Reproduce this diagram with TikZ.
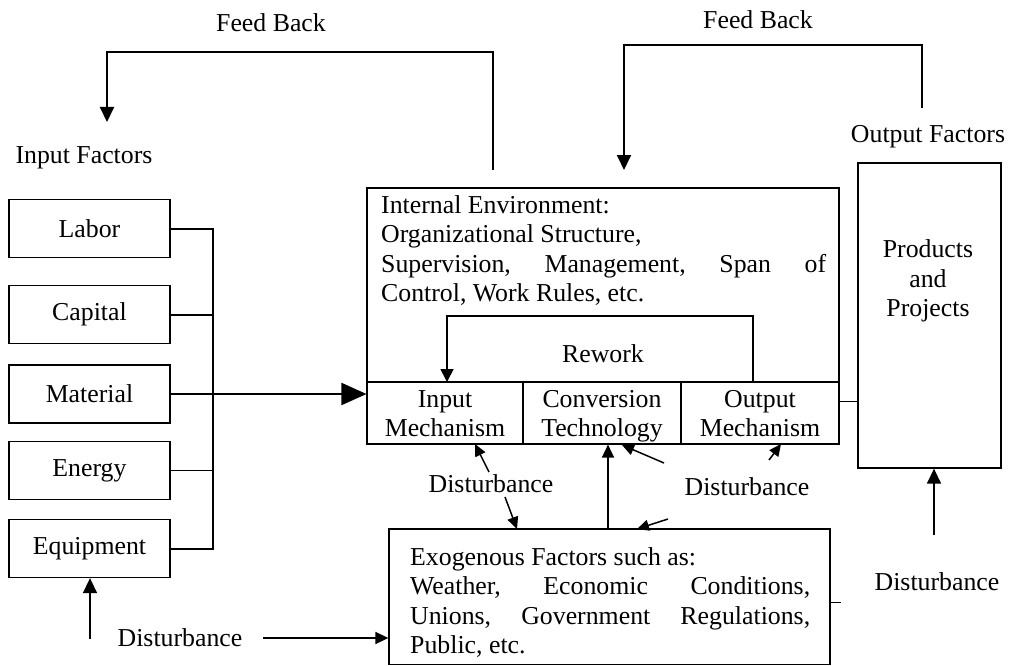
\documentclass[tikz,border=0pt]{standalone}
\usepackage{fontspec}
\setmainfont{Liberation Serif}
\usetikzlibrary{arrows.meta,calc}
\newcommand{\topstrut}{\rule{0pt}{25pt}}
\newcommand{\botstrut}{\rule[-7.5pt]{0pt}{7.5pt}}
\begin{document}
\begin{tikzpicture}[x=1pt,y=-1pt,
  every node/.style={font=\fontsize{25.8}{29.5}\selectfont, inner sep=0pt},
  ibox/.style={draw, line width=1.3pt, minimum width=161pt, minimum height=58pt},
  sbox/.style={draw, line width=1.1pt, minimum width=158pt, minimum height=62pt, align=center},
  conn/.style={line width=2pt},
  thinconn/.style={line width=1pt},
  bigarrow/.style={line width=2pt, -{Triangle[length=25pt,width=22pt]}},
  fbarrow/.style={line width=2pt, -{Triangle[length=15pt,width=14pt]}},
  darrow/.style={line width=1.5pt, -{Triangle[length=13pt,width=12pt]}},
  sarrow/.style={line width=1.5pt, -{Triangle[length=12pt,width=11pt]}}
]
\useasboundingbox (0,0) rectangle (1009,666);

% input factors
\node (inlabel) at (84,158) {Input Factors};
\node[ibox] (labor) at (89.5,228.5) {Labor};
\node[ibox] (capital) at (89.5,314.5) {Capital};
\node[ibox] (material) at (89.5,394) {Material};
\node[ibox] (energy) at (89.5,470.5) {Energy};
\node[ibox] (equip) at (89.5,548.5) {Equipment};
\coordinate (bus) at (213,0);
\draw[conn] (labor.east) -- (labor.east -| bus) -- (equip.east -| bus) -- (equip.east);
\draw[conn] (capital.east) -- (capital.east -| bus);
\draw[thinconn] (energy.east) -- (energy.east -| bus);

% internal environment
\node[draw, line width=1.1pt, minimum width=472pt, minimum height=194pt] (inner) at (603,285) {};
\node[anchor=north west, text width=445pt, align=justify] (innertext) at (381,195)
  {Internal Environment:\\
   Organizational Structure,\\
   Supervision,\hfill Management,\hfill Span\hfill of\\
   Control, Work Rules, etc.};
\node[sbox, minimum width=156pt] (inp) at (445,413) {\topstrut Input\\Mechanism\botstrut};
\node[sbox] (conv) at (602,413) {\topstrut Conversion\\Technology\botstrut};
\node[sbox] (outp) at (760,413) {\topstrut Output\\Mechanism\botstrut};
\draw[bigarrow] (material.east) -- (material.east -| inp.west);

% rework
\node (rework) at (603,354) {Rework};
\coordinate (rwS) at (753,382);
\coordinate (rwE) at (447,382);
\draw[line width=1.8pt, -{Triangle[length=13pt,width=13pt]}] (rwS) -- (753,316) -- (447,316) -- (rwE);

% output factors
\node (outlabel) at (928,137) {Output Factors};
\node[draw, line width=1.3pt, minimum width=143pt, minimum height=305pt] (prod) at (929.5,315.5) {};
\node[align=center] (prodtext) at (928,281) {Products\\and\\Projects};
\coordinate (oc) at (839,401);
\draw[thinconn] (oc) -- (oc -| prod.west);

% feed backs
\node (fb1) at (271,23) {Feed Back};
\node (fb2) at (758,20) {Feed Back};
\coordinate (fbLs) at (493,170);
\coordinate (fbLe) at (107,122);
\draw[fbarrow] (fbLs) -- (493,52) -- (107,52) -- (fbLe);
\coordinate (fbRs) at (922,108);
\coordinate (fbRe) at (624,170);
\draw[fbarrow] (fbRs) -- (922,45) -- (624,45) -- (fbRe);

% exogenous
\node[draw, line width=1.3pt, minimum width=441pt, minimum height=135.5pt] (exo) at (609.5,596.75) {};
\node[anchor=north west, text width=400pt, align=justify] (exotext) at (410,547)
  {Exogenous Factors such as:\\
   Weather,\hfill Economic\hfill Conditions,\\
   Unions,\hfill Government\hfill Regulations,\\
   Public, etc.};
\coordinate (exoR) at (830,602);
\draw[thinconn] (exoR) -- (841,602);

% disturbances middle
\node (dL) at (491,484) {Disturbance};
\node (dR) at (747,487) {Disturbance};
\coordinate (a1s) at (489,472); \coordinate (a1e) at (475,444);
\coordinate (a2s) at (505,497); \coordinate (a2e) at (517,529);
\draw[sarrow] (a1s) -- (a1e);
\draw[sarrow] (a2s) -- (a2e);
\draw[darrow] (exo.north -| 608,0) -- (conv.south -| 608,0);
\coordinate (b1s) at (664,463); \coordinate (b1e) at (622,445);
\coordinate (b2s) at (668,519); \coordinate (b2e) at (637,529);
\coordinate (b3s) at (769,460); \coordinate (b3e) at (781,444);
\draw[sarrow] (b1s) -- (b1e);
\draw[sarrow] (b2s) -- (b2e);
\draw[sarrow] (b3s) -- (b3e);

% products disturbance
\node (dP) at (937,582) {Disturbance};
\coordinate (pds) at (934,535);
\draw[fbarrow, line width=1.5pt] (pds) -- (pds |- prod.south);

% bottom-left disturbance
\node (dB) at (180,638) {Disturbance};
\coordinate (eqs) at (90,639);
\draw[fbarrow, line width=1.5pt] (eqs) -- (eqs |- equip.south);
\coordinate (dBs) at (263,638);
\draw[darrow] (dBs) -- (dBs -| exo.west);
\end{tikzpicture}
\end{document}
